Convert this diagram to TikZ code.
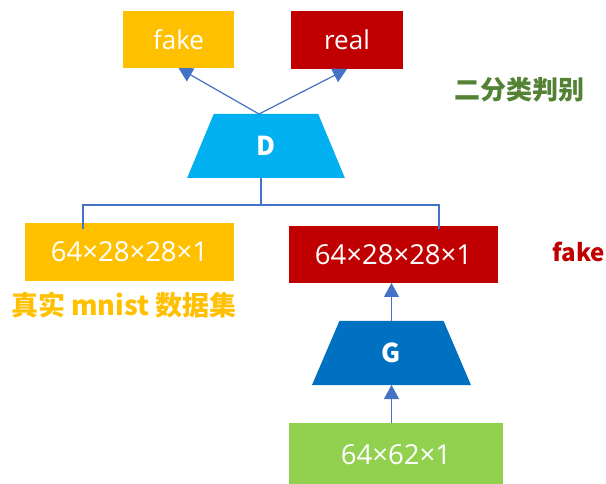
\documentclass[tikz,border=0pt]{standalone}
\usepackage{fontspec}
\setmainfont{Noto Sans CJK SC}
\newfontfamily\boxfont{Open Sans}
\usetikzlibrary{shapes.geometric,arrows.meta}
\definecolor{cyel}{HTML}{FFC000}
\definecolor{cred}{HTML}{C00000}
\definecolor{ccyan}{HTML}{00B0F0}
\definecolor{cblue}{HTML}{0070C0}
\definecolor{cgreen}{HTML}{92D050}
\definecolor{cline}{HTML}{4472C4}
\definecolor{cdark}{HTML}{548235}
\tikzset{
  box/.style={rectangle,inner sep=0pt,outer sep=0pt,text=white,font=\boxfont\fontsize{27.5}{30}\selectfont},
  trap/.style={trapezium,trapezium stretches=true,minimum width=158pt,minimum height=64pt,
     inner sep=0pt,outer sep=0pt,text=white,font=\bfseries\fontsize{26}{30}\selectfont},
  conn/.style={draw=cline,line width=1.2pt},
  arr/.style={conn,-{Triangle[length=14pt,width=15pt]}},
  lbl/.style={inner sep=0pt,font=\bfseries\fontsize{24}{28}\selectfont}
}
\begin{document}
\begin{tikzpicture}[x=1pt,y=-1pt]
\useasboundingbox (0,0) rectangle (606,484);
\node[box,fill=cyel,minimum width=111pt,minimum height=57pt,font=\boxfont\fontsize{26}{30}\selectfont] (fk) at (178.5,39.5) {\raisebox{-1pt}{fake}};
\node[box,fill=cred,minimum width=112pt,minimum height=58pt,font=\boxfont\fontsize{26}{30}\selectfont] (rl) at (347,40) {\raisebox{-1pt}{real}};
\node[trap,fill=ccyan,trapezium left angle=76,trapezium right angle=76] (D) at (266,146) {D};
\node[box,fill=cyel,minimum width=209pt,minimum height=58pt] (yl) at (129.5,252) {\raisebox{-2pt}{64×28×28×1}};
\node[box,fill=cred,minimum width=209pt,minimum height=57pt] (rd) at (393.5,254.5) {\raisebox{-2pt}{64×28×28×1}};
\node[trap,fill=cblue,minimum width=159pt,trapezium left angle=76,trapezium right angle=76] (G) at (391.5,353) {G};
\node[box,fill=cgreen,minimum width=214pt,minimum height=64pt] (gr) at (396,455) {\raisebox{-2pt}{64×62×1}};
\node[lbl,text=cdark,font=\bfseries\fontsize{26}{30}\selectfont] (t1) at (519,90) {二分类判别};
\node[lbl,text=cred] (t2) at (579,252) {fake};
\node[lbl,text=cyel,font=\bfseries\fontsize{27}{30}\selectfont] (t3) at (124,305) {真实 mnist 数据集};
% connectors
\coordinate (dtop) at (259,114);
\draw[arr] (dtop) -- (fk.south);
\draw[arr] (dtop) -- (rl.south);
\coordinate (dbot) at (261,178);
\coordinate (jn) at (261,205);
\coordinate (lin) at (83,229);
\coordinate (rin) at (439,229);
\draw[conn] (dbot) -- (jn);
\draw[conn] (lin) |- (jn) -| (rin);
\draw[arr] (gr.north -| G.south) -- (G.south);
\draw[arr] (G.north) -- (G.north |- rd.south);
\end{tikzpicture}
\end{document}
